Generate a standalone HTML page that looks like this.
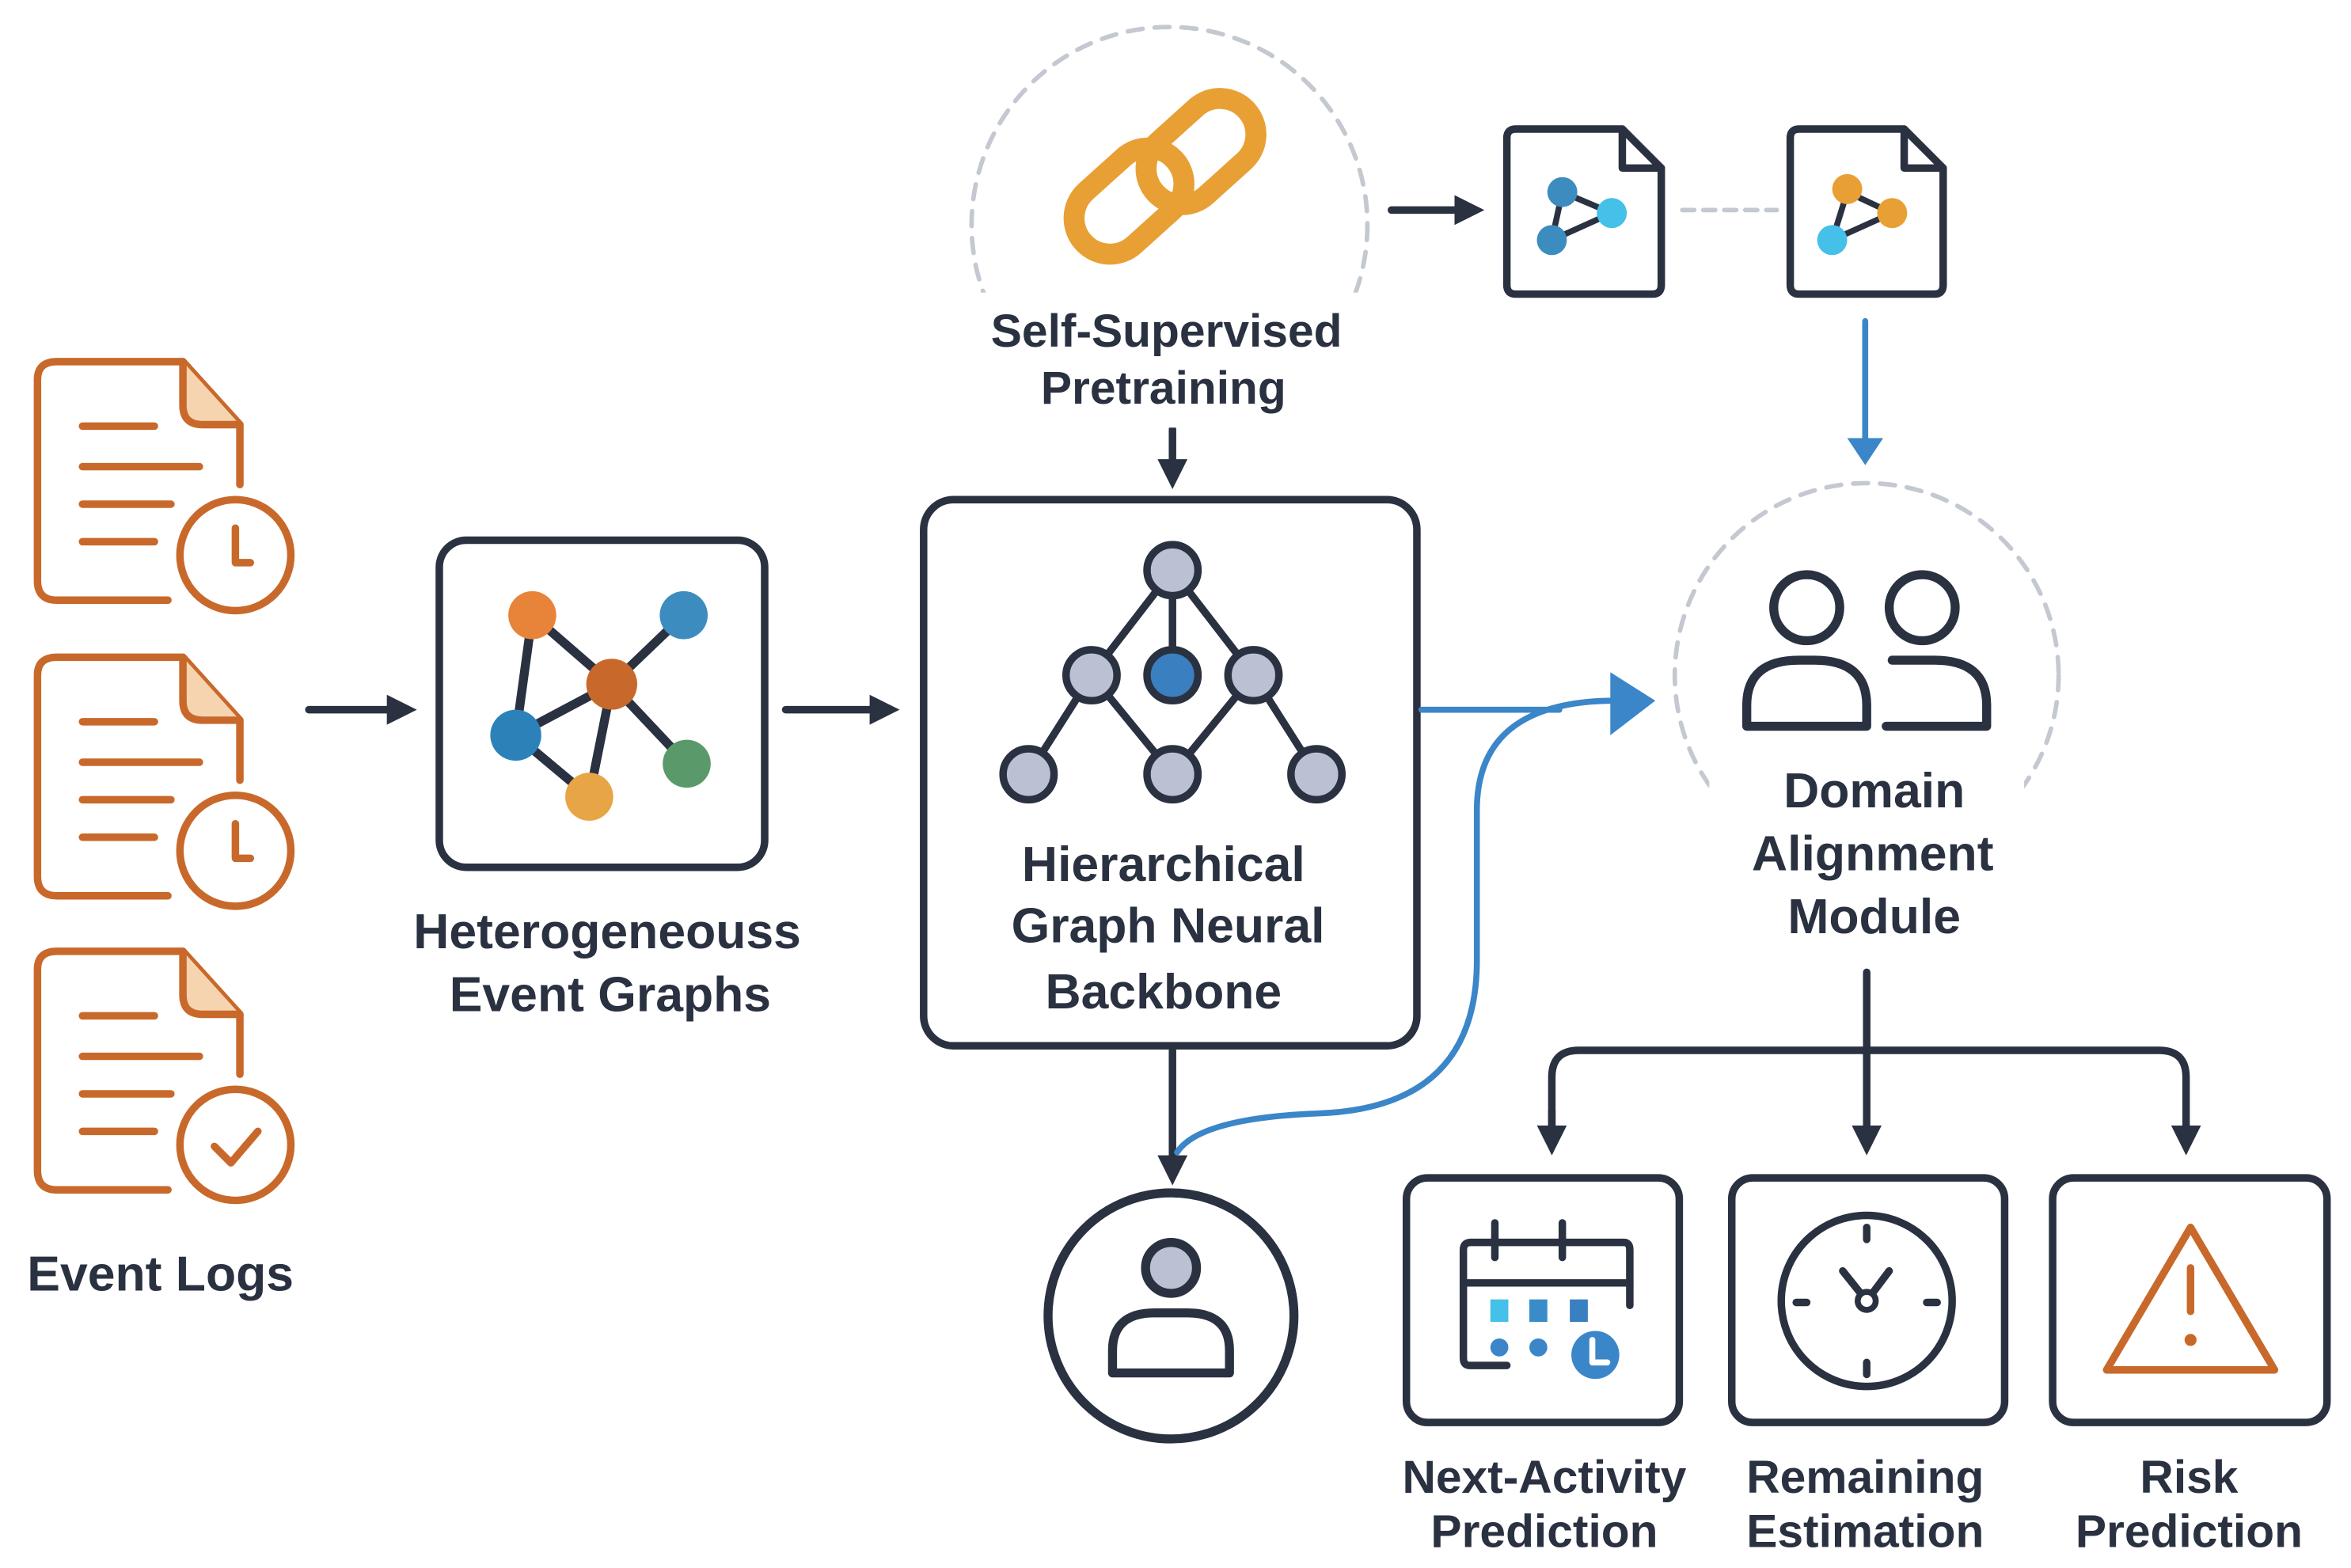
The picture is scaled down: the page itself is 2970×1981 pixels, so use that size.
<!DOCTYPE html>
<html><head><meta charset="utf-8"><style>html,body{margin:0;padding:0;background:#fff}svg{display:block}</style></head>
<body>
<svg width="2970" height="1981" viewBox="0 0 1568 1045" preserveAspectRatio="none" xmlns="http://www.w3.org/2000/svg" font-family="Liberation Sans, sans-serif">
<defs>
<marker id="ad" markerWidth="20" markerHeight="20" refX="10" refY="10" orient="auto" markerUnits="userSpaceOnUse" viewBox="0 0 20 20"><path d="M0,0 L20,10 L0,20 z" fill="#2a3140"/></marker>
</defs>
<rect width="1568" height="1045" fill="#fff"/>
<g fill="none" stroke-linecap="round" stroke-linejoin="round">
<!-- docs -->
<g stroke="#c8692b" stroke-width="5">
<path d="M112,400 H38 Q25,400 25,387 V253 Q25,241 38,241 H122 L160,283 V323"/>
<path d="M122,241 V270 Q122,283 135,283 H160" fill="#f7d4b0"/>
<line x1="55" y1="284" x2="103" y2="284"/><line x1="55" y1="311" x2="133" y2="311"/>
<line x1="55" y1="336" x2="114" y2="336"/><line x1="55" y1="361" x2="103" y2="361"/>
<circle cx="157" cy="370" r="37" fill="#fff"/>
<path d="M157,352 V375 H167"/>
</g>
<g stroke="#c8692b" stroke-width="5" transform="translate(0,197)">
<path d="M112,400 H38 Q25,400 25,387 V253 Q25,241 38,241 H122 L160,283 V323"/>
<path d="M122,241 V270 Q122,283 135,283 H160" fill="#f7d4b0"/>
<line x1="55" y1="284" x2="103" y2="284"/><line x1="55" y1="311" x2="133" y2="311"/>
<line x1="55" y1="336" x2="114" y2="336"/><line x1="55" y1="361" x2="103" y2="361"/>
<circle cx="157" cy="370" r="37" fill="#fff"/>
<path d="M157,352 V375 H167"/>
</g>
<g stroke="#c8692b" stroke-width="5" transform="translate(0,393)">
<path d="M112,400 H38 Q25,400 25,387 V253 Q25,241 38,241 H122 L160,283 V323"/>
<path d="M122,241 V270 Q122,283 135,283 H160" fill="#f7d4b0"/>
<line x1="55" y1="284" x2="103" y2="284"/><line x1="55" y1="311" x2="133" y2="311"/>
<line x1="55" y1="336" x2="114" y2="336"/><line x1="55" y1="361" x2="103" y2="361"/>
<circle cx="157" cy="370" r="37" fill="#fff"/>
<path d="M143,371 L154,382 L172,361"/>
</g>
<!-- arrows -->
<g stroke="#2a3140" stroke-width="5">
<line x1="206" y1="473" x2="268" y2="473" marker-end="url(#ad)"/>
<line x1="524" y1="473" x2="590" y2="473" marker-end="url(#ad)"/>
<line x1="782" y1="286" x2="782" y2="316" marker-end="url(#ad)"/>
<line x1="928" y1="140" x2="980" y2="140" marker-end="url(#ad)"/>
<line x1="782" y1="700" x2="782" y2="780" marker-end="url(#ad)"/>
<line x1="1245" y1="648" x2="1245" y2="760" marker-end="url(#ad)"/>
<path d="M1035,760 V718 Q1035,700 1053,700 H1440 Q1458,700 1458,718 V760" marker-end="url(#ad)"/>
<line x1="1035" y1="740" x2="1035" y2="760" marker-end="url(#ad)"/>
</g>
<!-- box 1 -->
<rect x="293" y="360" width="217" height="218" rx="18" stroke="#2a3140" stroke-width="5"/>
<g stroke="#2a3140" stroke-width="6">
<line x1="355" y1="410" x2="408" y2="456"/><line x1="456" y1="410" x2="408" y2="456"/>
<line x1="355" y1="410" x2="344" y2="490"/><line x1="344" y1="490" x2="408" y2="456"/>
<line x1="408" y1="456" x2="458" y2="509"/><line x1="408" y1="456" x2="393" y2="531"/>
<line x1="344" y1="490" x2="393" y2="531"/>
</g>
<g stroke="none">
<circle cx="355" cy="410" r="16" fill="#e8843a"/><circle cx="456" cy="410" r="16" fill="#3d8cc0"/>
<circle cx="408" cy="456" r="17" fill="#c8692b"/><circle cx="344" cy="490" r="17" fill="#2c82b8"/>
<circle cx="458" cy="509" r="16" fill="#5a9a6a"/><circle cx="393" cy="531" r="16" fill="#e8a545"/>
</g>
<!-- box 2 -->
<rect x="616" y="333" width="329" height="364" rx="20" stroke="#2a3140" stroke-width="5"/>
<g stroke="#2a3140" stroke-width="5">
<path d="M782,380 L728,450 L686,516 M728,450 L782,516 L836,450 L878,516 M782,380 L836,450 M782,380 V450"/>
</g>
<g stroke="#2a3140" stroke-width="5" fill="#b9c1d3">
<circle cx="782" cy="380" r="17"/><circle cx="728" cy="450" r="17"/><circle cx="836" cy="450" r="17"/>
<circle cx="782" cy="450" r="17" fill="#3a7fc0"/>
<circle cx="686" cy="516" r="17"/><circle cx="782" cy="516" r="17"/><circle cx="878" cy="516" r="17"/>
</g>
<!-- pretraining -->
<circle cx="780" cy="150" r="132" stroke="#c4c8d0" stroke-width="3" stroke-dasharray="10 8"/>
<rect x="640" y="195" width="280" height="90" fill="#fff" stroke="none"/>
<g stroke="#e8a035" stroke-width="14">
<rect x="712" y="110" width="82" height="48" rx="24" transform="rotate(-42 753 134)"/>
<rect x="760" y="77" width="82" height="48" rx="24" transform="rotate(-42 801 101)"/>
</g>
<!-- small docs -->
<g stroke="#2a3140" stroke-width="5">
<path d="M1005,92 Q1005,86 1011,86 H1082 L1108,112 V190 Q1108,196 1102,196 H1011 Q1005,196 1005,190 Z"/>
<path d="M1082,86 V112 H1108"/>
<path d="M1194,92 Q1194,86 1200,86 H1270 L1296,112 V190 Q1296,196 1290,196 H1200 Q1194,196 1194,190 Z"/>
<path d="M1270,86 V112 H1296"/>
<path d="M1042,128 L1035,160 L1075,142 Z" stroke-width="4"/>
<path d="M1232,128 L1222,160 L1262,142 Z" stroke-width="4"/>
</g>
<g stroke="none">
<circle cx="1042" cy="128" r="10" fill="#3d8cc0"/><circle cx="1035" cy="160" r="10" fill="#3d8cc0"/><circle cx="1075" cy="142" r="10" fill="#45c0e8"/>
<circle cx="1232" cy="126" r="10" fill="#e8a035"/><circle cx="1222" cy="160" r="10" fill="#45c0e8"/><circle cx="1262" cy="142" r="10" fill="#e8a035"/>
</g>
<line x1="1122" y1="140" x2="1185" y2="140" stroke="#c4c8d0" stroke-width="3" stroke-dasharray="8 6"/>
<!-- blue -->
<g stroke="#3a86c8" stroke-width="4">
<line x1="1244" y1="214" x2="1244" y2="295"/>
<path d="M948,473 H1040"/>
<path d="M785,768 Q800,745 880,742 Q985,738 985,640 V540 Q985,468 1075,467"/>
</g>
<path d="M1232,292 L1256,292 L1244,310 Z" fill="#3a86c8"/>
<path d="M1074,448 L1104,467 L1074,490 Z" fill="#3a86c8"/>
<!-- domain circle -->
<circle cx="1245" cy="450" r="128" stroke="#c4c8d0" stroke-width="3" stroke-dasharray="10 8"/>
<rect x="1140" y="500" width="210" height="130" fill="#fff" stroke="none"/>
<g stroke="#2a3140" stroke-width="6">
<circle cx="1205" cy="405" r="22"/><circle cx="1282" cy="405" r="22"/>
<path d="M1165,484 V470 Q1165,440 1200,440 H1210 Q1245,440 1245,470 V484 Z"/>
<path d="M1258,484 H1325 V470 Q1325,440 1290,440 H1262"/>
</g>
<!-- person circle -->
<circle cx="781" cy="877" r="82" stroke="#2a3140" stroke-width="6"/>
<g stroke="#2a3140" stroke-width="6">
<circle cx="781" cy="845" r="17" fill="#b9c1d3"/>
<path d="M742,915 V900 Q742,875 770,875 H792 Q820,875 820,900 V915 Z"/>
</g>
<!-- output boxes -->
<g stroke="#2a3140" stroke-width="5">
<rect x="938" y="785" width="182" height="163" rx="14"/>
<rect x="1155" y="785" width="182" height="163" rx="14"/>
<rect x="1369" y="785" width="183" height="163" rx="14"/>
<path d="M1005,910 H980 Q976,910 976,905 V833 Q976,828 981,828 H1083 Q1087,828 1087,833 V870"/>
<line x1="976" y1="855" x2="1087" y2="855"/>
<line x1="997" y1="815" x2="997" y2="838"/><line x1="1042" y1="815" x2="1042" y2="838"/>
<circle cx="1245" cy="867" r="57"/>
<path d="M1229,847 L1245,867 L1260,847"/>
<line x1="1245" y1="818" x2="1245" y2="826"/><line x1="1245" y1="908" x2="1245" y2="916"/>
<line x1="1198" y1="868" x2="1205" y2="868"/><line x1="1285" y1="868" x2="1292" y2="868"/>
</g>
<circle cx="1245" cy="867" r="6" fill="#fff" stroke="#2a3140" stroke-width="4"/>
<g stroke="none">
<rect x="994" y="866" width="12" height="15" fill="#45c0e8"/><rect x="1020" y="866" width="12" height="15" fill="#3a8cc8"/><rect x="1047" y="866" width="12" height="15" fill="#3a7fc0"/>
<circle cx="1000" cy="898" r="6" fill="#3a86c8"/><circle cx="1026" cy="898" r="6" fill="#3a86c8"/>
<circle cx="1064" cy="903" r="16" fill="#3a86c8"/>
</g>
<path d="M1062,893 V908 H1072" stroke="#fff" stroke-width="4"/>
<path d="M1461,818 L1405,913 H1517 Z" stroke="#c8692b" stroke-width="5"/>
<line x1="1461" y1="845" x2="1461" y2="874" stroke="#c8692b" stroke-width="5"/>
<circle cx="1461" cy="893" r="4" fill="#c8692b" stroke="none"/>
</g>
<g fill="#2a3140" font-size="33" font-weight="bold" text-anchor="middle">
<text x="107" y="860">Event Logs</text>
<text x="405" y="632">Heterogeneouss</text>
<text x="407" y="674">Event Graphs</text>
<text x="776" y="587">Hierarchical</text>
<text x="779" y="628">Graph Neural</text>
<text x="776" y="672">Backbone</text>
<text x="778" y="231" font-size="31">Self-Supervised</text>
<text x="776" y="269" font-size="31">Pretraining</text>
<text x="1250" y="538">Domain</text>
<text x="1249" y="580">Alignment</text>
<text x="1250" y="622">Module</text>
<text x="1030" y="995" font-size="31">Next-Activity</text>
<text x="1030" y="1031" font-size="31">Prediction</text>
<text x="1244" y="995" font-size="31">Remaining</text>
<text x="1244" y="1031" font-size="31">Estimation</text>
<text x="1460" y="995" font-size="31">Risk</text>
<text x="1460" y="1031" font-size="31">Prediction</text>
</g>
</svg>
</body></html>
